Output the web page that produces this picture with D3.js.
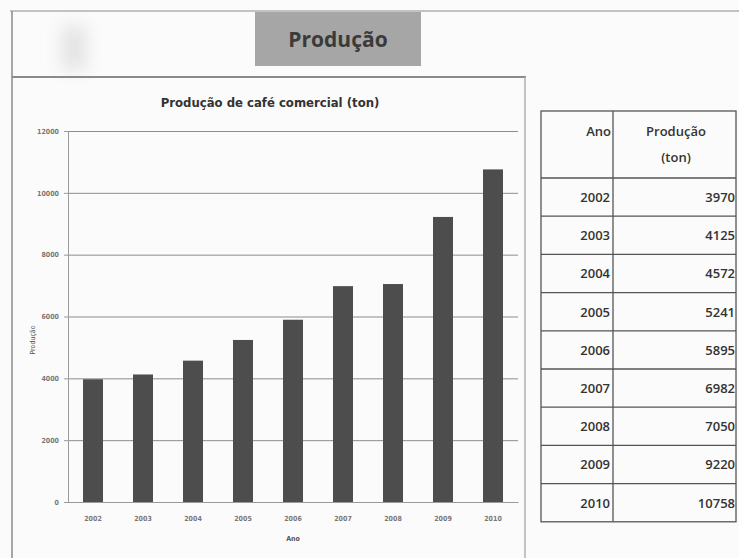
<!DOCTYPE html>
<html>
<head>
<meta charset="utf-8">
<script src="https://cdn.jsdelivr.net/npm/d3@7"></script>
<style>
  html, body { margin: 0; padding: 0; background: #fbfbfb; }
  svg { display: block; }
</style>
</head>
<body>
<svg id="chart" width="739" height="558"></svg>
<script>
// Coffee production data (tonnes per year)
const years = ["2002", "2003", "2004", "2005", "2006", "2007", "2008", "2009", "2010"];
const production = [3970, 4125, 4572, 5241, 5895, 6982, 7050, 9220, 10758];
const yTicks = [0, 2000, 4000, 6000, 8000, 10000, 12000];
const tableHeader = ["Ano", "Produção", "(ton)"];

const rows = years.map((y, i) => ({ year: y, value: production[i] }));

const svg = d3.select("#chart");
const font = "'Liberation Sans Narrow', 'DejaVu Sans Condensed', 'Liberation Sans', sans-serif";

const defs = svg.append("defs");
defs.append("filter").attr("id", "smudge")
  .attr("x", "-100%").attr("y", "-100%").attr("width", "300%").attr("height", "300%")
  .append("feGaussianBlur").attr("stdDeviation", 9);

// faint smudge on the page header
svg.append("rect")
  .attr("x", 62).attr("y", 26).attr("width", 24).attr("height", 44)
  .attr("fill", "#e2e2e2").attr("filter", "url(#smudge)");

// page frame
svg.append("line").attr("x1", 10).attr("x2", 739).attr("y1", 11).attr("y2", 11)
  .attr("stroke", "#b0b0b0").attr("stroke-width", 1.5);
svg.append("line").attr("x1", 12).attr("x2", 12).attr("y1", 11).attr("y2", 558)
  .attr("stroke", "#8a8a8a").attr("stroke-width", 1.5);

// heading block
svg.append("rect")
  .attr("x", 255).attr("y", 12).attr("width", 166).attr("height", 54)
  .attr("fill", "#a6a6a6");
svg.append("text")
  .attr("x", 338).attr("y", 47)
  .attr("text-anchor", "middle")
  .attr("font-family", "'Open Sans', 'Liberation Sans', sans-serif")
  .attr("font-weight", "bold").attr("font-size", 21)
  .attr("fill", "#3a3a3a")
  .text("Produção");

// chart frame
svg.append("line").attr("x1", 12).attr("x2", 526).attr("y1", 77).attr("y2", 77)
  .attr("stroke", "#8a8a8a").attr("stroke-width", 2);
svg.append("line").attr("x1", 525).attr("x2", 525).attr("y1", 77).attr("y2", 558)
  .attr("stroke", "#b0b0b0").attr("stroke-width", 1.5);

// chart title
svg.append("text")
  .attr("x", 270).attr("y", 107)
  .attr("text-anchor", "middle")
  .attr("font-family", font).attr("font-weight", "bold").attr("font-size", 13)
  .attr("fill", "#333")
  .text("Produção de café comercial (ton)");

// scales
const x = d3.scaleBand().domain(years).range([68, 518])
  .paddingInner(0.6).paddingOuter(0.3);
const y = d3.scaleLinear().domain([0, 12000]).range([502, 131]);

// gridlines
const grid = svg.append("g").attr("transform", "translate(68,0)")
  .call(d3.axisLeft(y).tickValues(yTicks).tickSize(-450).tickFormat(""));
grid.select(".domain").remove();
grid.selectAll("line").attr("stroke", "#8c8c8c").attr("stroke-width", 1);

// y axis
const yAxis = svg.append("g").attr("transform", "translate(68,0)")
  .attr("color", "#777")
  .call(d3.axisLeft(y).tickValues(yTicks).tickFormat(d3.format("d"))
    .tickSize(4).tickPadding(5));
yAxis.select(".domain").attr("stroke", "#9a9a9a");
yAxis.selectAll("line").attr("stroke", "#9a9a9a");
yAxis.selectAll("text").attr("font-family", font).attr("font-size", 7)
  .attr("font-weight", "bold").attr("fill", "#777");

// bars
svg.append("g").selectAll("rect").data(rows).join("rect")
  .attr("x", d => x(d.year))
  .attr("width", x.bandwidth())
  .attr("y", d => y(d.value))
  .attr("height", d => y(0) - y(d.value))
  .attr("fill", "#4d4d4d");

// x axis
const xAxis = svg.append("g").attr("transform", "translate(0,502)")
  .attr("color", "#777")
  .call(d3.axisBottom(x).tickSize(0).tickPadding(14));
xAxis.select(".domain").attr("stroke", "#9a9a9a");
xAxis.selectAll("text").attr("font-family", font).attr("font-size", 7)
  .attr("font-weight", "bold").attr("fill", "#777");

// axis titles
svg.append("text")
  .attr("x", 293).attr("y", 541).attr("text-anchor", "middle")
  .attr("font-family", font).attr("font-size", 7).attr("font-weight", "bold")
  .attr("fill", "#555").text("Ano");
svg.append("text")
  .attr("transform", "translate(35,340) rotate(-90)")
  .attr("text-anchor", "middle")
  .attr("font-family", font).attr("font-size", 7)
  .attr("fill", "#555").text("Produção");

// data table
const tLeft = 541, tMid = 613, tRight = 736;
const headTop = 111, headBottom = 178, rowH = 38.2;
const table = svg.append("g");
const tableStroke = "#555";

table.append("rect")
  .attr("x", tLeft).attr("y", headTop)
  .attr("width", tRight - tLeft).attr("height", headBottom - headTop + rowH * rows.length)
  .attr("fill", "none").attr("stroke", tableStroke).attr("stroke-width", 1.3);
table.append("line")
  .attr("x1", tMid).attr("x2", tMid)
  .attr("y1", headTop).attr("y2", headBottom + rowH * rows.length)
  .attr("stroke", tableStroke).attr("stroke-width", 1.3);
table.selectAll("line.row").data(rows).join("line").attr("class", "row")
  .attr("x1", tLeft).attr("x2", tRight)
  .attr("y1", (d, i) => headBottom + i * rowH)
  .attr("y2", (d, i) => headBottom + i * rowH)
  .attr("stroke", tableStroke).attr("stroke-width", 1.3);

const cellFont = "'Open Sans', 'Liberation Sans', sans-serif";
table.append("text")
  .attr("x", tMid - 2).attr("y", 136).attr("text-anchor", "end")
  .attr("font-family", cellFont).attr("font-size", 13).attr("font-weight", "600")
  .attr("fill", "#333").text(tableHeader[0]);
table.append("text")
  .attr("x", 676).attr("y", 136).attr("text-anchor", "middle")
  .attr("font-family", cellFont).attr("font-size", 13).attr("font-weight", "600")
  .attr("fill", "#333").text(tableHeader[1]);
table.append("text")
  .attr("x", 676).attr("y", 162).attr("text-anchor", "middle")
  .attr("font-family", cellFont).attr("font-size", 13).attr("font-weight", "600")
  .attr("fill", "#333").text(tableHeader[2]);

table.selectAll("text.year").data(rows).join("text").attr("class", "year")
  .attr("x", tMid - 3)
  .attr("y", (d, i) => headBottom + i * rowH + 24)
  .attr("text-anchor", "end")
  .attr("font-family", cellFont).attr("font-size", 13).attr("font-weight", "600")
  .attr("fill", "#333").text(d => d.year);
table.selectAll("text.val").data(rows).join("text").attr("class", "val")
  .attr("x", tRight - 1)
  .attr("y", (d, i) => headBottom + i * rowH + 24)
  .attr("text-anchor", "end")
  .attr("font-family", cellFont).attr("font-size", 13).attr("font-weight", "600")
  .attr("fill", "#333").text(d => d.value);
</script>
</body>
</html>
